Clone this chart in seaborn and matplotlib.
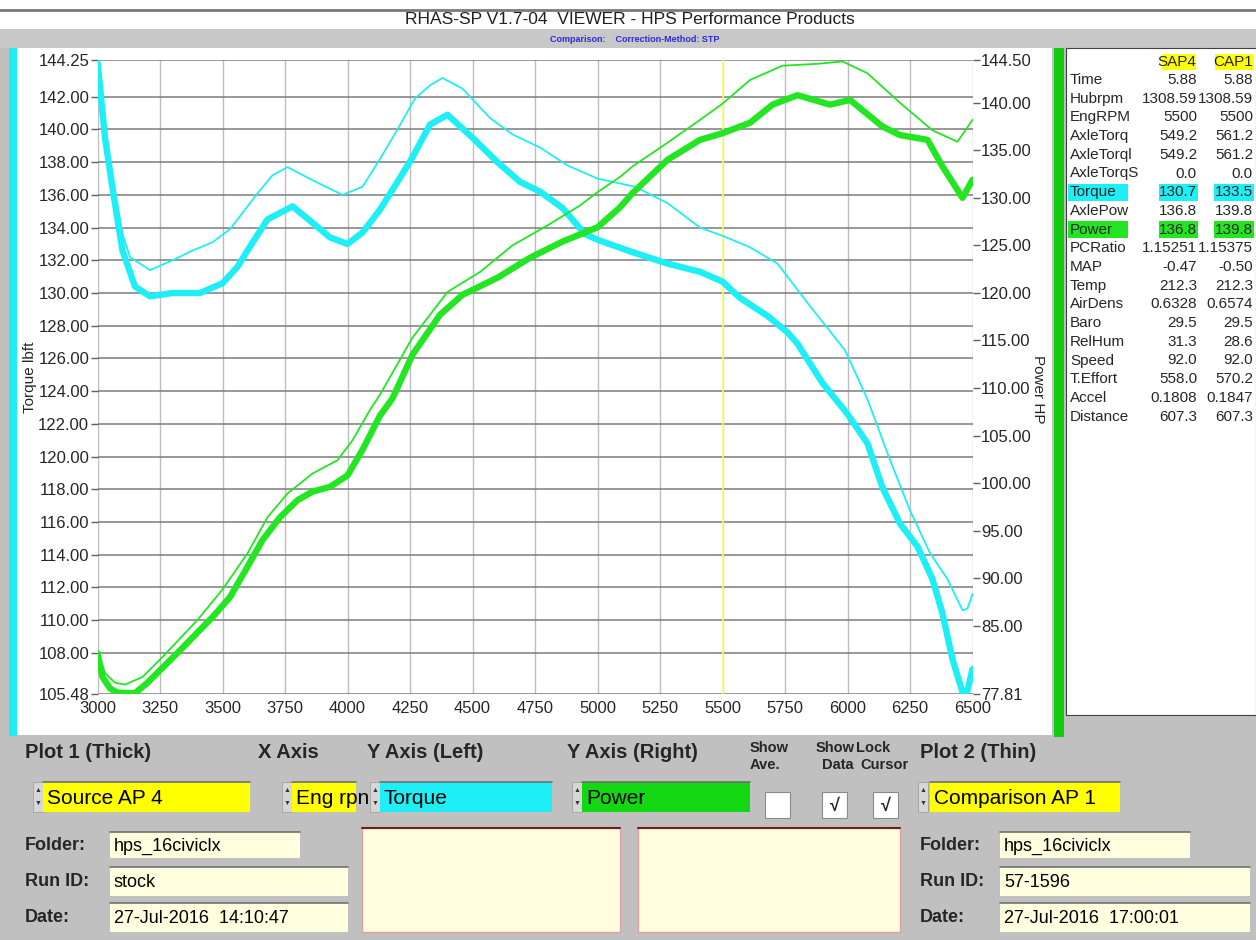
import pandas as pd
import seaborn as sns
import matplotlib.pyplot as plt
from matplotlib.patches import Rectangle
from matplotlib import font_manager

# values
rpm_tq_sap4 = [3000, 3010, 3030, 3060, 3100, 3150, 3210, 3300, 3410, 3500, 3560, 3600, 3680, 3780,
               3860, 3930, 4000, 4060, 4130, 4200, 4260, 4330, 4400, 4500, 4600, 4690, 4770, 4860,
               4950, 5010, 5140, 5280, 5410, 5500, 5570, 5680, 5760, 5800, 5900, 6000, 6080, 6140,
               6210, 6280, 6340, 6380, 6420, 6460, 6480, 6500]
tq_sap4 = [144.1, 142.6, 139.5, 136.4, 132.6, 130.4, 129.8, 130.0, 130.0, 130.6, 131.6, 132.6, 134.5, 135.3,
           134.3, 133.4, 133.0, 133.7, 135.1, 136.8, 138.3, 140.3, 140.9, 139.5, 138.0, 136.8, 136.2, 135.2,
           133.6, 133.2, 132.5, 131.8, 131.3, 130.7, 129.7, 128.6, 127.6, 126.9, 124.5, 122.6, 120.8, 118.1,
           115.9, 114.5, 112.5, 110.4, 107.6, 105.6, 105.7, 107.0]

rpm_tq_cap1 = [3000, 3015, 3040, 3070, 3100, 3130, 3210, 3300, 3380, 3460, 3530, 3640, 3700, 3760,
               3860, 3980, 4060, 4130, 4200, 4270, 4330, 4380, 4460, 4570, 4660, 4770, 4880, 5000,
               5090, 5150, 5280, 5410, 5500, 5610, 5720, 5840, 5990, 6080, 6170, 6250, 6330, 6400,
               6460, 6480, 6500]
tq_cap1 = [144.2, 142.0, 139.0, 136.2, 133.6, 132.2, 131.4, 132.0, 132.6, 133.1, 133.9, 136.1, 137.2, 137.7,
           136.9, 136.0, 136.5, 138.2, 140.0, 141.9, 142.7, 143.15, 142.5, 140.7, 139.7, 138.9, 137.8, 137.0,
           136.7, 136.5, 135.5, 134.0, 133.5, 132.8, 131.8, 129.4, 126.5, 123.5, 119.8, 116.7, 114.1, 112.5,
           110.6, 110.7, 111.6]

rpm_pw_sap4 = [3000, 3020, 3050, 3080, 3150, 3200, 3330, 3460, 3530, 3600, 3660, 3730, 3800, 3860,
               3930, 4000, 4060, 4130, 4180, 4260, 4370, 4460, 4600, 4730, 4860, 5000, 5090, 5140,
               5280, 5410, 5500, 5610, 5700, 5800, 5930, 6010, 6140, 6210, 6320, 6380, 6460, 6500]
pw_sap4 = [82.1, 79.6, 78.4, 77.95, 77.9, 79.0, 82.4, 85.9, 88.0, 91.2, 94.0, 96.4, 98.2, 99.1,
           99.6, 100.8, 103.5, 107.1, 108.9, 113.5, 117.7, 119.8, 121.6, 123.7, 125.4, 126.9, 129.0, 130.5,
           134.0, 136.1, 136.8, 137.9, 139.8, 140.8, 139.8, 140.3, 137.5, 136.6, 136.1, 133.3, 130.0, 131.9]

rpm_pw_cap1 = [3000, 3030, 3070, 3110, 3180, 3260, 3400, 3500, 3600, 3680, 3760, 3860, 3960, 4020,
               4090, 4130, 4260, 4400, 4530, 4660, 4800, 4930, 5000, 5090, 5140, 5280, 5410, 5500,
               5610, 5740, 5880, 5980, 6080, 6210, 6340, 6440, 6500]
pw_cap1 = [82.4, 80.0, 79.0, 78.8, 79.6, 81.7, 85.6, 88.8, 92.6, 96.4, 98.9, 101.0, 102.4, 104.5,
           107.7, 109.3, 115.3, 120.1, 122.2, 125.0, 127.1, 129.2, 130.6, 132.2, 133.3, 135.8, 138.2, 139.9,
           142.4, 143.9, 144.1, 144.35, 143.1, 140.0, 137.1, 135.9, 138.2]

x_ticks = [3000, 3250, 3500, 3750, 4000, 4250, 4500, 4750, 5000, 5250, 5500, 5750, 6000, 6250, 6500]
left_ticks = [105.48, 108, 110, 112, 114, 116, 118, 120, 122, 124, 126, 128, 130, 132, 134, 136,
              138, 140, 142, 144.25]
right_ticks = [77.81, 85, 90, 95, 100, 105, 110, 115, 120, 125, 130, 135, 140, 144.50]
cursor_rpm = 5500

table_labels = ['Time', 'Hubrpm', 'EngRPM', 'AxleTorq', 'AxleTorql', 'AxleTorqS', 'Torque', 'AxlePow',
                'Power', 'PCRatio', 'MAP', 'Temp', 'AirDens', 'Baro', 'RelHum', 'Speed', 'T.Effort',
                'Accel', 'Distance']
table_sap4 = ['5.88', '1308.59', '5500', '549.2', '549.2', '0.0', '130.7', '136.8', '136.8', '1.15251',
              '-0.47', '212.3', '0.6328', '29.5', '31.3', '92.0', '558.0', '0.1808', '607.3']
table_cap1 = ['5.88', '1308.59', '5500', '561.2', '561.2', '0.0', '133.5', '139.8', '139.8', '1.15375',
              '-0.50', '212.3', '0.6574', '29.5', '28.6', '92.0', '570.2', '0.1847', '607.3']

CYAN = '#1EEEF6'
GREEN = '#22E622'
YELLOW = '#FFFF00'
PANEL = '#C0C0C0'
FIELD = '#FFFFE0'

sns.set_style('white')
plt.rcParams['font.family'] = ['Liberation Sans', 'DejaVu Sans']

# narrow font for the window title, if there is one
try:
    font_manager.findfont('Liberation Sans Narrow', fallback_to_default=False)
    title_family = ['Liberation Sans Narrow', 'Liberation Sans']
except Exception:
    title_family = ['Liberation Sans']

fig = plt.figure(figsize=(12.56, 9.4), dpi=100)

# the window around the chart, drawn in pixel coordinates
ui = fig.add_axes([0, 0, 1, 1])
ui.set_xlim(0, 1256)
ui.set_ylim(940, 0)
ui.axis('off')
ui.set_zorder(0)


def box(x0, y0, x1, y1, fc, ec='none', lw=1.0):
    ui.add_patch(Rectangle((x0, y0), x1 - x0, y1 - y0, facecolor=fc, edgecolor=ec, linewidth=lw))


def spinner(x, y0, y1):
    box(x, y0, x + 10, y1, '#D6D6D6', '#A0A0A0', 0.6)
    ui.text(x + 5, y0 + (y1 - y0) * 0.3, '▲', fontsize=5, ha='center', va='center', color='#333333')
    ui.text(x + 5, y0 + (y1 - y0) * 0.72, '▼', fontsize=5, ha='center', va='center', color='#333333')


def field(x0, y0, x1, y1, fc, text, size=15):
    box(x0, y0, x1, y1, fc)
    ui.plot([x0, x1], [y0, y0], color='#707070', lw=1.2)
    ui.text(x0 + 4, (y0 + y1) / 2 + 1, text, fontsize=size, ha='left', va='center', color='black')


# title bar
ui.plot([0, 1256], [10, 10], color='#7A7A7A', lw=2)
box(0, 29, 1256, 48, '#C8C8C8')
ui.text(630, 20, 'RHAS-SP V1.7-04  VIEWER - HPS Performance Products', family=title_family,
        fontsize=12.5, ha='center', va='center', color='#202020')
ui.text(635, 40, 'Comparison:    Correction-Method: STP', fontsize=6.5, ha='center', va='center',
        color='#2B2BE0', fontweight='bold')

# chart frame
box(0, 48, 1256, 940, PANEL)
box(17, 48, 1052, 735, 'white')
box(9, 48, 17, 736, CYAN)
box(1054, 48, 1064, 737, '#11CC11')
box(1066, 48, 1256, 715, 'white', '#404040', 0.8)

# data table at the right
ui.add_patch(Rectangle((1162, 54), 34, 16, facecolor=YELLOW, edgecolor='none'))
ui.add_patch(Rectangle((1215, 54), 39, 16, facecolor=YELLOW, edgecolor='none'))
ui.text(1196, 62, 'SAP4', fontsize=11, ha='right', va='center')
ui.text(1253, 62, 'CAP1', fontsize=11, ha='right', va='center')
for i, (lab, a, b) in enumerate(zip(table_labels, table_sap4, table_cap1)):
    y = 80 + i * 18.7
    if lab in ('Torque', 'Power'):
        hc = CYAN if lab == 'Torque' else GREEN
        box(1068, y - 8.5, 1128, y + 8.5, hc)
        box(1159, y - 8.5, 1198, y + 8.5, hc)
        box(1214, y - 8.5, 1254, y + 8.5, hc)
    ui.text(1070, y, lab, fontsize=11, ha='left', va='center')
    ui.text(1197, y, a, fontsize=11, ha='right', va='center')
    ui.text(1253, y, b, fontsize=11, ha='right', va='center')

# control panel
for x, lab in [(25, 'Plot 1 (Thick)'), (258, 'X Axis'), (367, 'Y Axis (Left)'),
               (567, 'Y Axis (Right)'), (920, 'Plot 2 (Thin)')]:
    ui.text(x, 753, lab, fontsize=14.5, fontweight='bold', ha='left', va='center')
ui.text(750, 748, 'Show', fontsize=10.5, fontweight='bold', ha='left', va='center')
ui.text(750, 765, 'Ave.', fontsize=10.5, fontweight='bold', ha='left', va='center')
ui.text(816, 748, 'Show', fontsize=10.5, fontweight='bold', ha='left', va='center')
ui.text(822, 765, 'Data', fontsize=10.5, fontweight='bold', ha='left', va='center')
ui.text(856, 748, 'Lock', fontsize=10.5, fontweight='bold', ha='left', va='center')
ui.text(860, 765, 'Cursor', fontsize=10.5, fontweight='bold', ha='left', va='center')

spinner(33, 782, 812)
field(43, 782, 250, 812, YELLOW, 'Source AP 4')
spinner(282, 782, 812)
field(292, 782, 356, 812, YELLOW, 'Eng rpn')
spinner(370, 782, 812)
field(380, 782, 552, 812, CYAN, 'Torque')
spinner(572, 782, 812)
field(582, 782, 750, 812, '#14D714', 'Power')
spinner(918, 782, 812)
field(930, 782, 1120, 812, YELLOW, 'Comparison AP 1')

for x, checked in [(765, False), (822, True), (873, True)]:
    box(x, 792, x + 25, 818, 'white', '#8A8A8A', 0.8)
    if checked:
        ui.text(x + 12.5, 806, '√', fontsize=13, fontweight='bold', ha='center', va='center')

for x0, x1, x2, x3, folder, run, date in [
        (25, 110, 300, 348, 'hps_16civiclx', 'stock', '27-Jul-2016  14:10:47'),
        (920, 1000, 1190, 1250, 'hps_16civiclx', '57-1596', '27-Jul-2016  17:00:01')]:
    ui.text(x0, 845, 'Folder:', fontsize=13, fontweight='bold', ha='left', va='center')
    ui.text(x0, 881, 'Run ID:', fontsize=13, fontweight='bold', ha='left', va='center')
    ui.text(x0, 917, 'Date:', fontsize=13, fontweight='bold', ha='left', va='center')
    field(x1, 832, x2, 858, FIELD, folder, size=13)
    field(x1, 867, x3, 896, FIELD, run, size=13)
    field(x1, 903, x3, 932, FIELD, date, size=13)

for x0, x1 in [(362, 620), (638, 900)]:
    box(x0, 828, x1, 932, FIELD, '#E0A0A0', 1.0)
    ui.plot([x0, x1], [828, 828], color='#6B2020', lw=1.5)

# the chart itself
ax = fig.add_axes([97.5 / 1256, 1 - 694 / 940, 875 / 1256, 634 / 940])
ax.set_zorder(2)
ax.patch.set_visible(False)

tq_thick = pd.DataFrame({'rpm': rpm_tq_sap4, 'torque': tq_sap4})
tq_thin = pd.DataFrame({'rpm': rpm_tq_cap1, 'torque': tq_cap1})
pw_thick = pd.DataFrame({'rpm': rpm_pw_sap4, 'power': pw_sap4})
pw_thin = pd.DataFrame({'rpm': rpm_pw_cap1, 'power': pw_cap1})

ax.axvline(cursor_rpm, color='#FFFF70', lw=1.2, zorder=1.5)
sns.lineplot(data=tq_thick, x='rpm', y='torque', color=CYAN, linewidth=4.6, ax=ax,
             estimator=None, sort=False, solid_capstyle='round', solid_joinstyle='round')
sns.lineplot(data=tq_thin, x='rpm', y='torque', color=CYAN, linewidth=1.3, ax=ax,
             estimator=None, sort=False)

ax.set_xlim(3000, 6500)
ax.set_ylim(105.48, 144.25)
ax.set_xticks(x_ticks)
ax.set_xticklabels([str(v) for v in x_ticks])
ax.set_yticks(left_ticks)
ax.set_yticklabels([f'{v:.2f}' for v in left_ticks])
ax.set_axisbelow(True)
ax.grid(axis='y', color='#7C7C7C', linewidth=1.1)
ax.grid(axis='x', color='#BDBDBD', linewidth=1.0)
ax.tick_params(axis='y', length=5, width=1, color='#606060', labelsize=12, pad=1)
ax.tick_params(axis='x', length=4, width=1, color='#A0A0A0', labelsize=12, pad=1)
ax.set_xlabel('')
ax.set_ylabel('Torque lbft', fontsize=11)
ax.yaxis.set_label_coords(-0.069, 0.5)
for s in ax.spines.values():
    s.set_visible(False)

ax2 = ax.twinx()
ax2.set_zorder(3)
ax2.patch.set_visible(False)
sns.lineplot(data=pw_thick, x='rpm', y='power', color=GREEN, linewidth=4.6, ax=ax2,
             estimator=None, sort=False, solid_capstyle='round', solid_joinstyle='round')
sns.lineplot(data=pw_thin, x='rpm', y='power', color=GREEN, linewidth=1.3, ax=ax2,
             estimator=None, sort=False)
ax2.set_xlim(3000, 6500)
ax2.set_ylim(77.81, 144.50)
ax2.set_yticks(right_ticks)
ax2.set_yticklabels([f'{v:.2f}' for v in right_ticks])
ax2.tick_params(axis='y', length=5, width=1, color='#606060', labelsize=12, pad=1)
ax2.grid(False)
ax2.set_ylabel('Power HP', fontsize=11, rotation=-90)
ax2.yaxis.set_label_coords(1.083, 0.48)
for s in ax2.spines.values():
    s.set_visible(False)

fig.savefig('out.png', dpi=100)
